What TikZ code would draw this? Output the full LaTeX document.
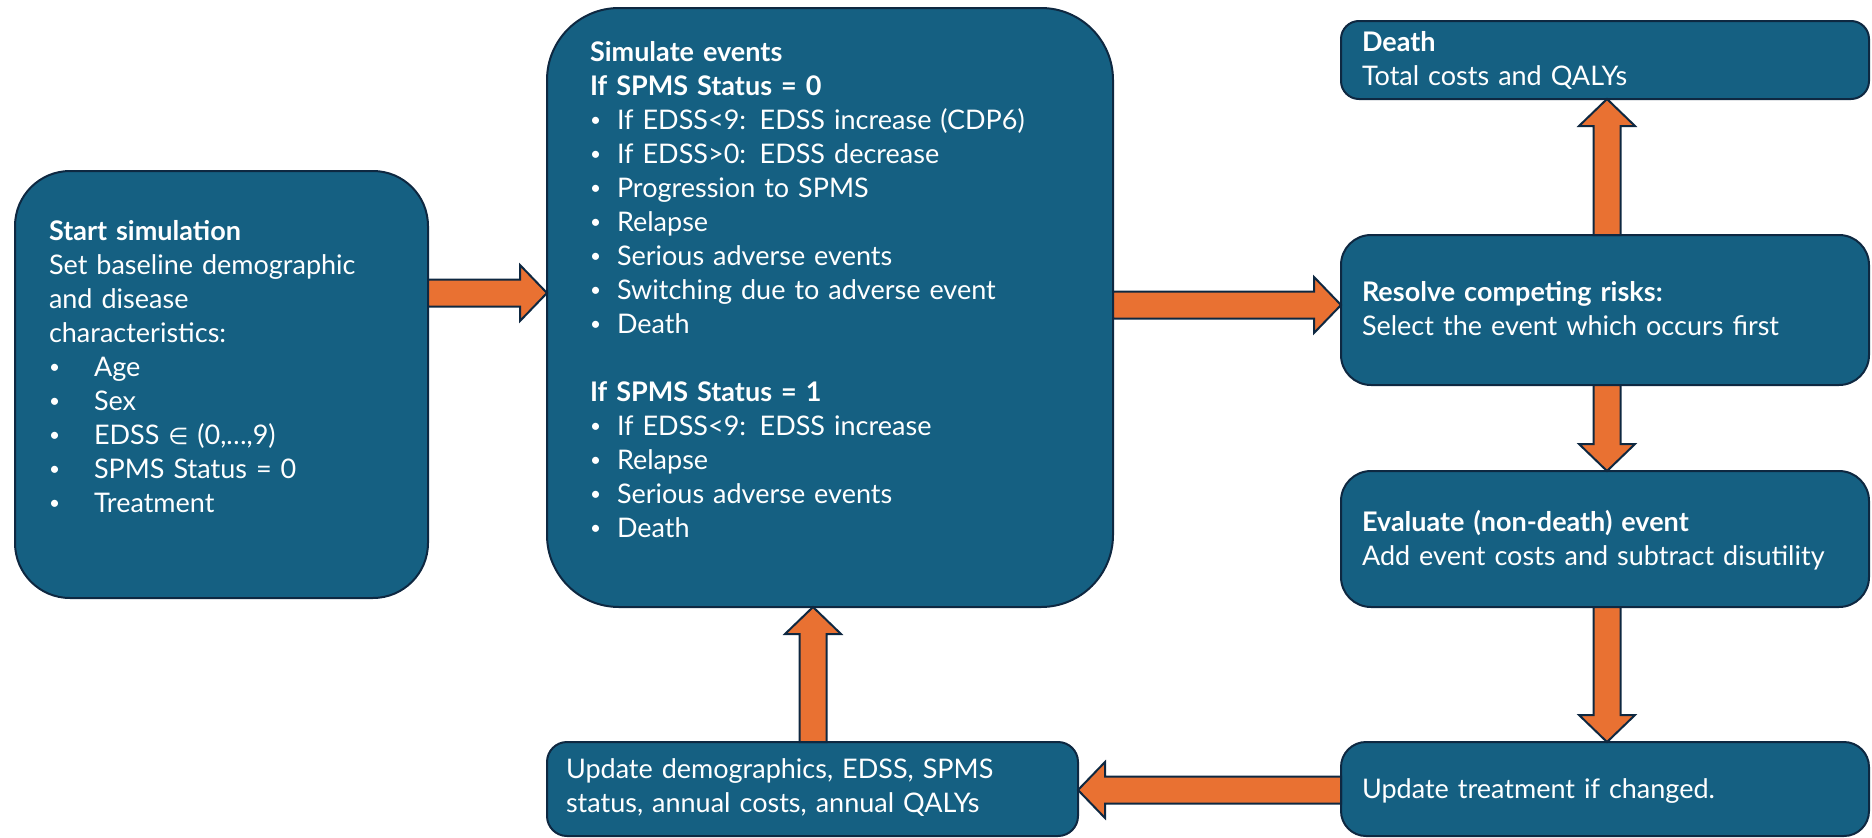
\documentclass[tikz,border=0pt]{standalone}
\usepackage{fontspec}
\setmainfont{Lato}
\newfontfamily\symfont{DejaVu Sans}
\usetikzlibrary{calc}

\definecolor{boxblue}{HTML}{156082}
\definecolor{boxline}{HTML}{0E2841}
\definecolor{arroworange}{HTML}{E97132}

\tikzset{
  box/.style={draw=boxline, fill=boxblue, line width=2pt, rounded corners=#1,
    inner sep=0pt, outer sep=0pt, anchor=north west},
  box/.default=20pt,
  boxtext/.style={text=white, anchor=base west, inner sep=0pt, outer sep=0pt,
    text width=#1, align=left, font=\fontsize{27}{34}\selectfont},
  boxtext/.default=500pt,
  blockarrow/.style={draw=boxline, fill=arroworange, line width=2pt, line join=miter},
}

% small bullet and the two list indents
\newcommand\dotmark{\raisebox{2.5pt}{\fontsize{19}{19}\selectfont •}}
\newcommand\sbul[1]{\makebox[45pt][l]{\dotmark}#1}
\newcommand\ebul[1]{\makebox[27pt][l]{\dotmark}#1}
\newcommand\elemof{{\symfont\fontsize{23}{34}\selectfont ∈}}

% thick block arrow from #1 (tail) to #2 (tip)
\newcommand\blockarrow[2]{%
  \coordinate (ah) at ($(#2)!27pt!(#1)$);
  \draw[blockarrow] ($(#1)!13.5pt!90:(#2)$) -- ($(ah)!13.5pt!90:(#2)$)
    -- ($(ah)!28pt!90:(#2)$) -- (#2) -- ($(ah)!28pt!-90:(#2)$)
    -- ($(ah)!13.5pt!-90:(#2)$) -- ($(#1)!13.5pt!-90:(#2)$) -- cycle;
}

\begin{document}
\begin{tikzpicture}[x=1pt, y=-1pt]
\useasboundingbox (0,0) rectangle (1872,838);

% boxes
\node[box=55pt, minimum width=413pt, minimum height=427pt] (start) at (15,171) {};
\node[box=72pt, minimum width=566pt, minimum height=599pt] (sim) at (547,8) {};
\node[box=18pt, minimum width=528pt, minimum height=78pt] (death) at (1341,21) {};
\node[box=30pt, minimum width=528pt, minimum height=150pt] (resolve) at (1341,235) {};
\node[box=30pt, minimum width=528pt, minimum height=136pt] (evaluate) at (1341,471) {};
\node[box=25pt, minimum width=528pt, minimum height=94pt] (treat) at (1341,742) {};
\node[box=20pt, minimum width=531pt, minimum height=94pt] (demo) at (547,742) {};

% texts
\node[boxtext] (starttext) at (49,240) {\textbf{Start simulation}\\
  Set baseline demographic\\and disease\\characteristics:\\
  \sbul{Age}\\\sbul{Sex}\\\sbul{EDSS \elemof{} (0,…,9)}\\
  \sbul{SPMS Status = 0}\\\sbul{Treatment}};

\node[boxtext] (simtext) at (590,61) {\textbf{Simulate events}\\
  \textbf{If SPMS Status = 0}\\
  \ebul{If EDSS<9:\enspace EDSS increase (CDP6)}\\
  \ebul{If EDSS>0:\enspace EDSS decrease}\\
  \ebul{Progression to SPMS}\\
  \ebul{Relapse}\\
  \ebul{Serious adverse events}\\
  \ebul{Switching due to adverse event}\\
  \ebul{Death}\\[34pt]
  \textbf{If SPMS Status = 1}\\
  \ebul{If EDSS<9:\enspace EDSS increase}\\
  \ebul{Relapse}\\
  \ebul{Serious adverse events}\\
  \ebul{Death}};

\node[boxtext] (deathtext) at (1362,51) {\textbf{Death}\\Total costs and QALYs};
\node[boxtext] (resolvetext) at (1362,301) {\textbf{Resolve competing risks:}\\Select the event which occurs first};
\node[boxtext] (evaltext) at (1362,531) {\textbf{Evaluate (non-death) event}\\Add event costs and subtract disutility};
\node[boxtext] (treattext) at (1362,798) {Update treatment if changed.};
\node[boxtext] (demotext) at (566,778) {Update demographics, EDSS, SPMS\\status, annual costs, annual QALYs};

% arrow guide lines
\coordinate (ya) at (0,293);
\coordinate (yb) at (0,305);
\coordinate (yc) at (0,790);
\coordinate (xa) at (1607,0);
\coordinate (xb) at (813,0);

\coordinate (a1) at (start.east |- ya);   \coordinate (b1) at (sim.west |- ya);
\coordinate (a2) at (sim.east |- yb);     \coordinate (b2) at (resolve.west |- yb);
\coordinate (a3) at (resolve.north -| xa); \coordinate (b3) at (death.south -| xa);
\coordinate (a4) at (resolve.south -| xa); \coordinate (b4) at (evaluate.north -| xa);
\coordinate (a5) at (evaluate.south -| xa); \coordinate (b5) at (treat.north -| xa);
\coordinate (a6) at (treat.west |- yc);   \coordinate (b6) at (demo.east |- yc);
\coordinate (a7) at (demo.north -| xb);   \coordinate (b7) at (sim.south -| xb);

\blockarrow{a1}{b1}
\blockarrow{a2}{b2}
\blockarrow{a3}{b3}
\blockarrow{a4}{b4}
\blockarrow{a5}{b5}
\blockarrow{a6}{b6}
\blockarrow{a7}{b7}
\end{tikzpicture}
\end{document}
